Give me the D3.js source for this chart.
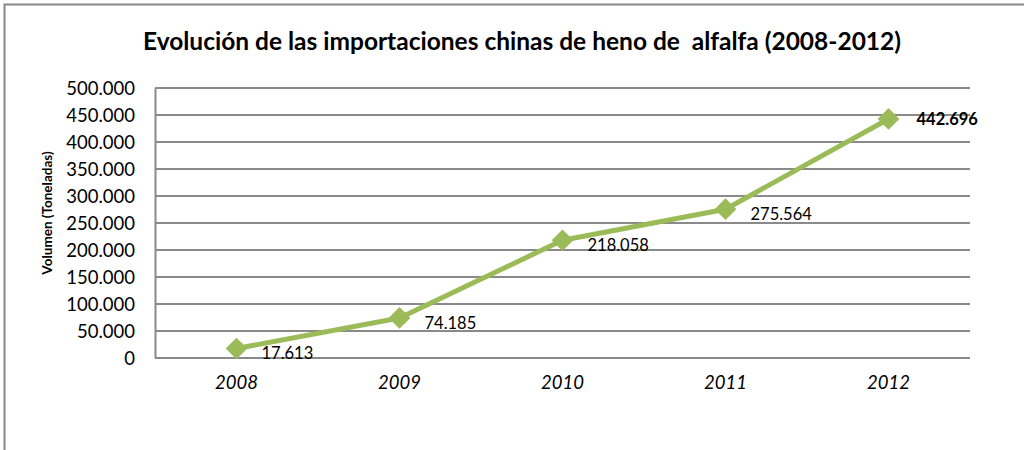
<!DOCTYPE html>
<html>
<head>
<meta charset="utf-8">
<script src="https://cdn.jsdelivr.net/npm/d3@7"></script>
<style>
  body { margin: 0; background: #fff; }
  svg text { font-family: Lato, "Open Sans", sans-serif; fill: #000; }
</style>
</head>
<body>
<svg id="chart" width="1024" height="450"></svg>
<script>
// Data
const years = ["2008", "2009", "2010", "2011", "2012"];
const volumes = [17613, 74185, 218058, 275564, 442696];
const yTicks = [0, 50000, 100000, 150000, 200000, 250000, 300000, 350000, 400000, 450000, 500000];

const svg = d3.select("#chart");
const margin = { top: 88, right: 54, bottom: 92, left: 155 };
const width = 1024 - margin.left - margin.right,
      height = 450 - margin.top - margin.bottom;

// Outer chart frame (only top and left visible in the picture)
svg.append("rect")
    .attr("x", 4.5).attr("y", 4.5)
    .attr("width", 1040).attr("height", 460)
    .attr("fill", "none")
    .attr("stroke", "#888")
    .attr("stroke-width", 2);

svg.append("text")
    .attr("x", 522).attr("y", 50)
    .attr("text-anchor", "middle")
    .attr("xml:space", "preserve")
    .style("font-size", "24.5px")
    .style("font-weight", "bold")
    .text("Evolución de las importaciones chinas de heno de  alfalfa (2008-2012)");

const g = svg.append("g").attr("transform", `translate(${margin.left},${margin.top})`);

const x = d3.scaleBand().domain(years).range([0, width]);
const y = d3.scaleLinear().domain([0, 500000]).range([height, 0]);

const fmt = d3.formatLocale({ decimal: ",", thousands: ".", grouping: [3], currency: ["", ""] }).format(",d");

// Gridlines
g.selectAll(".grid")
    .data(yTicks)
    .enter().append("line")
    .attr("x1", 0).attr("x2", width)
    .attr("y1", d => y(d)).attr("y2", d => y(d))
    .attr("stroke", "#8a8a8a")
    .attr("stroke-width", 2);

// Y axis
const yAxis = g.append("g")
    .call(d3.axisLeft(y).tickValues(yTicks).tickFormat(fmt).tickSize(0).tickPadding(20));
yAxis.select(".domain").attr("stroke", "#8a8a8a").attr("stroke-width", 2);
yAxis.selectAll("text").style("font-size", "18.5px").attr("dy", "0.35em");

// X axis labels
const xAxis = g.append("g")
    .attr("transform", `translate(0,${height})`)
    .call(d3.axisBottom(x).tickSize(0).tickPadding(18));
xAxis.select(".domain").remove();
xAxis.selectAll("text").style("font-size", "18.5px").style("font-style", "italic");

// Y axis title
svg.append("text")
    .attr("transform", `translate(52,${margin.top + height / 2 - 10}) rotate(-90)`)
    .attr("text-anchor", "middle")
    .style("font-size", "13.5px")
    .style("font-weight", "bold")
    .text("Volumen (Toneladas)");

// Line
const line = d3.line()
    .x((d, i) => x(years[i]) + x.bandwidth() / 2)
    .y(d => y(d));

g.append("path")
    .datum(volumes)
    .attr("d", line)
    .attr("fill", "none")
    .attr("stroke", "#9BBB59")
    .attr("stroke-width", 5)
    .attr("stroke-linejoin", "round");

// Diamond markers
g.selectAll(".marker")
    .data(volumes)
    .enter().append("path")
    .attr("class", "marker")
    .attr("d", d3.symbol().type(d3.symbolDiamond2).size(300))
    .attr("transform", (d, i) => `translate(${x(years[i]) + x.bandwidth() / 2},${y(d)})`)
    .attr("fill", "#9BBB59");

// Data labels
g.selectAll(".label")
    .data(volumes)
    .enter().append("text")
    .attr("x", (d, i) => x(years[i]) + x.bandwidth() / 2 + (i === 4 ? 28 : 25))
    .attr("y", (d, i) => y(d) + (i === 4 ? 6 : 11))
    .style("font-size", "16.5px")
    .style("font-weight", (d, i) => i === 4 ? "bold" : "normal")
    .text(d => fmt(d));
</script>
</body>
</html>
